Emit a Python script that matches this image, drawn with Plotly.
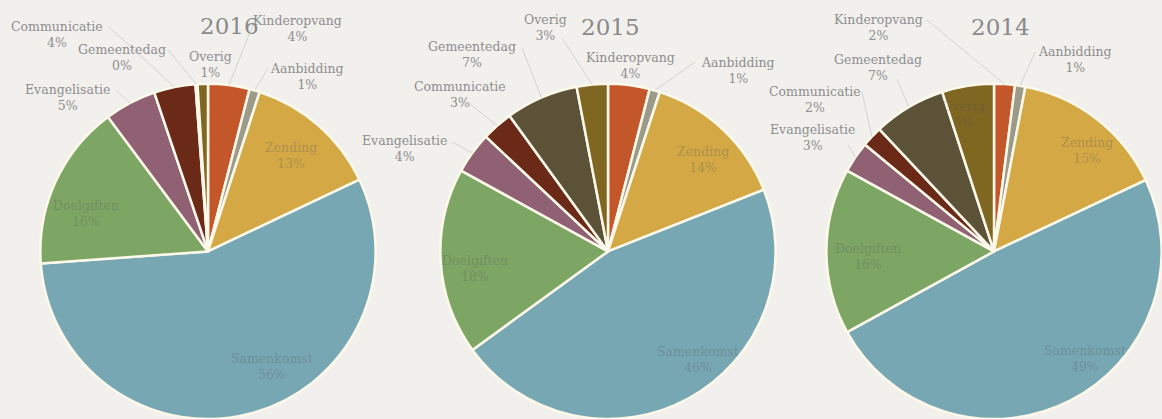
import math
import plotly.graph_objects as go

categories = ["Kinderopvang", "Aanbidding", "Zending", "Samenkomst", "Doelgiften",
              "Evangelisatie", "Communicatie", "Gemeentedag", "Overig"]
years = ["2016", "2015", "2014"]
values_2016 = [4, 1, 13, 56, 16, 5, 4, 0.2, 1]
values_2015 = [4, 1, 14, 46, 18, 4, 3, 7, 3]
values_2014 = [2, 1, 15, 49, 16, 3, 2, 7, 5]

colors = ["#c4572a", "#9c9a88", "#d3a845", "#78a7b4", "#7da665",
          "#8f6173", "#6b2a17", "#5b5238", "#7f6621"]

W, H = 1162, 419
# layout (pixel) constants
domains_x = [(40, 376), (440, 776), (826, 1162)]
dom_y = (0.0, 0.8)
title_pos = [(229, 26), (610, 27), (1000, 27)]
# outside label block centre and leader anchor, pixel coordinates
outside = {
    "2016": {"Communicatie": ((57, 34), (108, 26)),
             "Gemeentedag": ((122, 57), (168, 50)),
             "Overig": ((210, 64), None),
             "Kinderopvang": ((297, 29), (254, 22)),
             "Aanbidding": ((307, 76), (268, 68)),
             "Evangelisatie": ((67, 97), (116, 90))},
    "2015": {"Overig": ((545, 27), (562, 38)),
             "Gemeentedag": ((472, 55), (522, 48)),
             "Communicatie": ((460, 94), (470, 104)),
             "Evangelisatie": ((405, 149), (452, 142)),
             "Kinderopvang": ((630, 65), None),
             "Aanbidding": ((738, 71), (695, 62))},
    "2014": {"Kinderopvang": ((878, 27), (927, 20)),
             "Aanbidding": ((1075, 59), (1035, 52)),
             "Gemeentedag": ((878, 67), (897, 79)),
             "Communicatie": ((815, 99), (862, 92)),
             "Evangelisatie": ((812, 137), (848, 145))},
}
# inside label block centres, pixel coordinates
inside = {
    "2016": {"Zending": (291, 156), "Doelgiften": (86, 213), "Samenkomst": (272, 366)},
    "2015": {"Zending": (703, 159), "Doelgiften": (475, 268), "Samenkomst": (698, 359)},
    "2014": {"Zending": (1087, 150), "Doelgiften": (868, 256), "Samenkomst": (1085, 358),
             "Overig": (963, 114)},
}

serif = "DejaVu Serif"
label_col = "#8e8e8e"

fig = go.Figure()
annotations = []
shapes = []
all_vals = [values_2016, values_2015, values_2014]
for i, (yr, vals) in enumerate(zip(years, all_vals)):
    x0, x1 = domains_x[i]
    fig.add_trace(go.Pie(
        labels=categories, values=vals, sort=False, direction="clockwise", rotation=0,
        domain=dict(x=[x0 / W, x1 / W], y=list(dom_y)),
        marker=dict(colors=colors, line=dict(color="#fcf8ea", width=2.5)),
        textinfo="none", showlegend=False, hoverinfo="label+percent", name=yr,
    ))
    # geometry of the pie in pixels
    hpx = (dom_y[1] - dom_y[0]) * H
    r = min(x1 - x0, hpx) / 2
    cx = (x0 + x1) / 2
    cy = H - (dom_y[0] + dom_y[1]) / 2 * H
    total = sum(vals)
    cum = 0
    mids = {}
    for c, v in zip(categories, vals):
        mids[c] = (cum + v / 2) / total * 2 * math.pi
        cum += v
    annotations.append(dict(text=yr, x=title_pos[i][0] / W, y=1 - title_pos[i][1] / H,
                            xref="paper", yref="paper", showarrow=False,
                            xanchor="center", yanchor="middle",
                            font=dict(family=serif, size=23, color="#8a8a8a")))
    for c, (pos, anchor) in outside[yr].items():
        v = vals[categories.index(c)]
        pct = round(v / total * 100)
        annotations.append(dict(text=f"{c}<br>{pct}%", x=pos[0] / W, y=1 - pos[1] / H,
                                xref="paper", yref="paper", showarrow=False,
                                xanchor="center", yanchor="middle",
                                font=dict(family=serif, size=12.5, color=label_col)))
        if anchor is not None:
            a = mids[c]
            ex = cx + r * math.sin(a)
            ey = cy - r * math.cos(a)
            shapes.append(dict(type="line", xref="paper", yref="paper",
                               x0=anchor[0] / W, y0=1 - anchor[1] / H,
                               x1=ex / W, y1=1 - ey / H,
                               line=dict(color="#d2d2d2", width=1)))
    for c, pos in inside[yr].items():
        v = vals[categories.index(c)]
        pct = round(v / total * 100)
        annotations.append(dict(text=f"{c}<br>{pct}%", x=pos[0] / W, y=1 - pos[1] / H,
                                xref="paper", yref="paper", showarrow=False,
                                xanchor="center", yanchor="middle",
                                font=dict(family=serif, size=12.5,
                                          color="rgba(85,85,85,0.32)")))

fig.update_layout(
    width=W, height=H, margin=dict(l=0, r=0, t=0, b=0),
    paper_bgcolor="#f1f0ed", plot_bgcolor="#f1f0ed",
    annotations=annotations, shapes=shapes,
)
fig.write_html("out.html", config={"displayModeBar": False},
               post_script="document.body.style.margin='0';document.body.style.overflow='hidden';")
